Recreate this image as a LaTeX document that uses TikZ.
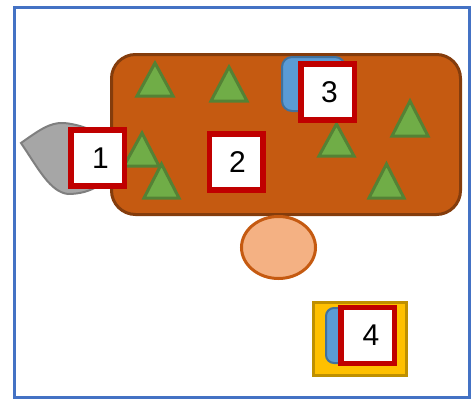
\documentclass[tikz,border=0pt]{standalone}
\usepackage{fontspec}
\setmainfont{Liberation Sans}
\usetikzlibrary{shapes.geometric}
\definecolor{frameblue}{HTML}{4472C4}
\definecolor{rustfill}{HTML}{C55A11}
\definecolor{rustline}{HTML}{843C0C}
\definecolor{trifill}{HTML}{70AD47}
\definecolor{triline}{HTML}{548235}
\definecolor{redline}{HTML}{C00000}
\definecolor{bluefill}{HTML}{5B9BD5}
\definecolor{blueline}{HTML}{41719C}
\definecolor{grayfill}{HTML}{A6A6A6}
\definecolor{grayline}{HTML}{7F7F7F}
\definecolor{peach}{HTML}{F4B183}
\definecolor{goldfill}{HTML}{FFC000}
\definecolor{goldline}{HTML}{BF9000}
\begin{document}
\begin{tikzpicture}[x=1pt,y=-1pt,
  numbox/.style={draw=redline,line width=5.5pt,fill=white,minimum width=53.5pt,minimum height=56pt,inner sep=0pt,font=\fontsize{30}{32}\selectfont},
  tri/.style={fill=trifill,draw=triline,line width=3pt,line join=miter},
  bluetab/.style={fill=bluefill,draw=blueline,line width=2pt}]
\useasboundingbox (0,0) rectangle (472,399);
\draw[frameblue,line width=3pt] (14,7) rectangle (469.5,397);
% gray leaf
\draw[fill=grayfill,draw=grayline,line width=2pt] (21,143) .. controls (38,131) and (50,122) .. (64,123) .. controls (75,124) and (85,127) .. (98,133) -- (98,186) .. controls (90,191) and (80,194) .. (68,194) .. controls (50,192) and (38,168) .. (21,143) -- cycle;
% orange body
\draw[fill=rustfill,draw=rustline,line width=3pt,rounded corners=24pt] (111.5,54.5) rectangle (460.5,214.5);
% triangles
\draw[tri] (155,63) -- (173,96) -- (137,96) -- cycle;
\draw[tri] (229,67) -- (247,101) -- (211,101) -- cycle;
\draw[tri] (410,101) -- (428,136) -- (392,136) -- cycle;
\draw[tri] (336.5,124) -- (354,156) -- (319,156) -- cycle;
\draw[tri] (386.5,164) -- (404,198) -- (369,198) -- cycle;
\draw[tri] (142,133) -- (159,166) -- (124,166) -- cycle;
\draw[tri] (161.5,164) -- (179,198) -- (144,198) -- cycle;
% blue tab behind 3
\draw[bluetab,rounded corners=10pt] (282,111) -- (282,57) -- (345,57) -- (345,111) -- cycle;
% ellipse
\node[ellipse,draw=rustfill,fill=peach,line width=3pt,minimum width=74pt,minimum height=62pt,inner sep=0pt] (e) at (278.5,247.5) {};
% box 4 group
\draw[fill=goldfill,draw=goldline,line width=3pt] (313.5,302.5) rectangle (406.5,375.5);
\draw[bluetab,rounded corners=8pt] (326,363) -- (326,308) -- (352,308) -- (352,363) -- cycle;
% numbered boxes
\node[numbox] (n1) at (97.5,158) {\hspace{6pt}1};
\node[numbox] (n2) at (236,162) {\hspace{3pt}2};
\node[numbox] (n3) at (327.5,92) {\hspace{4pt}3};
\node[numbox] (n4) at (367.5,335.5) {\hspace{7pt}4};
\end{tikzpicture}
\end{document}
